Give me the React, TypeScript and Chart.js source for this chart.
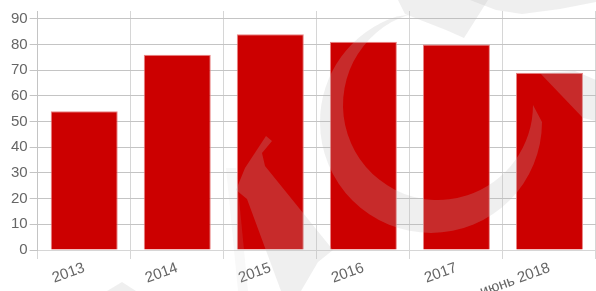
import React, { useEffect, useRef } from "react";
import { Chart, registerables } from "chart.js";

Chart.register(...registerables);

const categories = ["2013", "2014", "2015", "2016", "2017", "июнь 2018"];
const values = [54, 76, 84, 81, 80, 69];
const yTicks = [0, 10, 20, 30, 40, 50, 60, 70, 80, 90];

const WM = "rgba(185,185,185,0.23)";

const polys: number[][][] = [
  // top right swoosh
  [[470, 0], [596, 0], [596, 2], [560, 9], [522, 14], [496, 10]],
  // top diagonal piece of logo
  [[398, 0], [488, 0], [464, 38], [446, 30], [405, 14]],
  // right diagonal
  [[540, 73], [575, 71], [596, 80], [596, 121], [583, 118]],
  // arrow
  [[266, 136], [272, 141], [262, 153], [265, 166], [333, 250], [318, 262], [301, 291], [281, 291], [247, 199], [236, 190], [245, 168]],
  // bottom-left triangle
  [[107, 291], [122, 282], [136, 291]],
];

const watermark = {
  id: "watermark",
  afterDraw(chart: any) {
    const c = chart.ctx as CanvasRenderingContext2D;
    c.save();
    c.fillStyle = WM;
    // crescent
    c.beginPath();
    c.arc(431, 122, 111, 0, Math.PI * 1.4, false);
    c.arc(438, 105, 95, Math.PI * 1.4, 0, true);
    c.closePath();
    c.fill();
    for (const p of polys) {
      c.beginPath();
      c.moveTo(p[0][0], p[0][1]);
      for (let i = 1; i < p.length; i++) c.lineTo(p[i][0], p[i][1]);
      c.closePath();
      c.fill();
    }
    // faint left band
    c.fillStyle = "rgba(200,200,200,0.12)";
    c.beginPath();
    c.moveTo(226, 168);
    c.lineTo(236, 168);
    c.lineTo(248, 291);
    c.lineTo(238, 291);
    c.closePath();
    c.fill();
    c.restore();
  },
};

export default function App() {
  const ref = useRef<HTMLCanvasElement | null>(null);
  useEffect(() => {
    document.body.style.margin = "0";
    const ctx = ref.current!.getContext("2d")!;
    const chart = new Chart(ctx, {
      type: "bar",
      data: {
        labels: categories,
        datasets: [
          {
            data: values,
            backgroundColor: "#cc0000",
            borderColor: "rgba(230,120,120,0.9)",
            borderWidth: 1,
            categoryPercentage: 0.8,
            barPercentage: 0.9,
          },
        ],
      },
      plugins: [watermark],
      options: {
        animation: false,
        responsive: false,
        maintainAspectRatio: false,
        layout: { padding: { top: 11, left: 9, right: 0, bottom: -10 } },
        plugins: { legend: { display: false }, tooltip: { enabled: false } },
        scales: {
          x: {
            grid: { color: "#d6d6d6", tickLength: 9, offset: true },
            border: { color: "#d6d6d6" },
            ticks: {
              color: "#666",
              font: { family: "Arial, 'Liberation Sans'", size: 15 },
              minRotation: 20,
              maxRotation: 20,
              padding: 0,
            },
          },
          y: {
            min: 0,
            max: 93,
            afterBuildTicks: (scale: any) => {
              scale.ticks = yTicks.map((v) => ({ value: v }));
            },
            grid: { color: "#c4c4c4", tickLength: 8 },
            border: { color: "#c4c4c4" },
            ticks: {
              color: "#666",
              font: { family: "Arial, 'Liberation Sans'", size: 15 },
              padding: 2,
            },
          },
        },
      },
    } as any);
    return () => chart.destroy();
  }, []);
  return (
    <div style={{ position: "absolute", left: 0, top: 0, width: 596, height: 291 }}>
      <canvas ref={ref} width={596} height={291} style={{ width: 596, height: 291 }} />
    </div>
  );
}
